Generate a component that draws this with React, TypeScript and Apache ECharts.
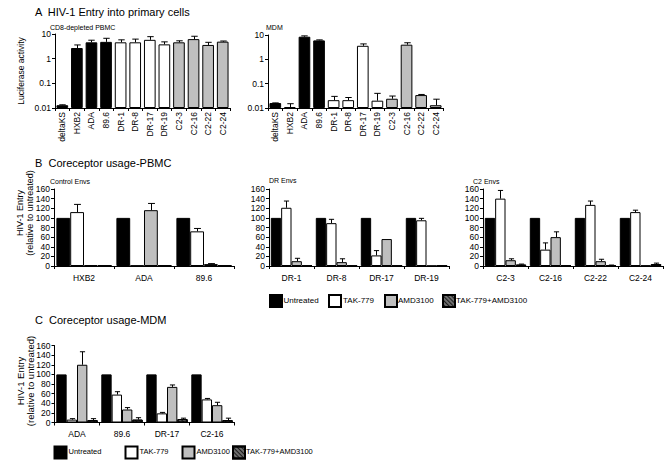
import React, { useEffect, useRef } from 'react';
import * as echarts from 'echarts';

// ---------- Panel A ----------
const strainsA = ['deltaKS', 'HXB2', 'ADA', '89.6', 'DR-1', 'DR-8', 'DR-17', 'DR-19', 'C2-3', 'C2-16', 'C2-22', 'C2-24'];
const groupA = ['ctrl', 'ctrl', 'ctrl', 'ctrl', 'dr', 'dr', 'dr', 'dr', 'c2', 'c2', 'c2', 'c2'];
const pbmcA = [0.013, 2.7, 4.6, 4.8, 4.6, 4.6, 5.8, 3.8, 4.6, 6.2, 3.6, 4.9];
const pbmcAErr = [0.0135, 3.6, 5.6, 6.7, 5.8, 6.2, 7.8, 4.8, 5.3, 8.1, 4.6, 5.2];
const mdmA = [0.016, 0.011, 8.5, 6.0, 0.021, 0.021, 3.6, 0.02, 0.024, 4.0, 0.034, 0.013];
const mdmAErr = [0.0162, 0.015, 9.2, 6.3, 0.03, 0.027, 4.3, 0.04, 0.031, 4.8, 0.036, 0.023];
const logTicks = ['0.01', '0.1', '1', '10'];

// ---------- Panel B ----------
const treatments = ['Untreated', 'TAK-779', 'AMD3100', 'TAK-779+AMD3100'];
const controlCats = ['HXB2', 'ADA', '89.6'];
const controlVals = [
  [100, 100, 100],
  [112, 1, 72],
  [2, 116, 4],
  [1, 1.5, 1],
];
const controlErrs = [
  [100, 100, 100],
  [128, 1, 78],
  [2, 130, 5],
  [1, 1.5, 1],
];
const drCats = ['DR-1', 'DR-8', 'DR-17', 'DR-19'];
const drVals = [
  [100, 100, 100, 100],
  [121, 89, 22, 95],
  [10, 8, 56, 0.5],
  [1, 0.5, 0.5, 0.5],
];
const drErrs = [
  [100, 100, 100, 100],
  [135, 97, 32, 99],
  [16, 15, 56, 0.5],
  [1, 0.5, 0.5, 0.5],
];
const c2Cats = ['C2-3', 'C2-16', 'C2-22', 'C2-24'];
const c2Vals = [
  [100, 100, 100, 100],
  [140, 34, 127, 112],
  [12, 60, 10, 1],
  [3, 1, 1.5, 4],
];
const c2Errs = [
  [100, 100, 100, 100],
  [157, 48, 135, 116],
  [15, 71, 14, 1],
  [4, 1, 2, 6],
];

// ---------- Panel C ----------
const mdmCats = ['ADA', '89.6', 'DR-17', 'C2-16'];
const mdmVals = [
  [100, 100, 100, 100],
  [6, 58, 19, 48],
  [120, 27, 74, 36],
  [5, 6, 7, 5],
];
const mdmErrs = [
  [100, 100, 100, 100],
  [8, 64, 21, 50],
  [147, 31, 78, 42],
  [8, 10, 9, 9],
];
const linTicks = [0, 20, 40, 60, 80, 100, 120, 140, 160];

const FONT = 'Liberation Sans, Arial, sans-serif';
const GRAY = '#bfbfbf';
const HATCH_DECAL = {
  symbol: 'rect',
  symbolSize: 1,
  color: 'rgba(0,0,0,0.75)',
  dashArrayX: [1, 0],
  dashArrayY: [1, 1.5],
  rotation: Math.PI / 4,
};
const treatStyles = [
  { color: '#000000', borderColor: '#000', borderWidth: 1 },
  { color: '#ffffff', borderColor: '#000', borderWidth: 1 },
  { color: GRAY, borderColor: '#000', borderWidth: 1 },
  { color: '#6e6e6e', borderColor: '#000', borderWidth: 1, decal: HATCH_DECAL },
];
const colorA: Record<string, string> = { ctrl: '#000000', dr: '#ffffff', c2: GRAY };

function errSeries(gi: number, barIdx: number, nBars: number, bwFrac: number, capFrac: number, vals: number[], errs: number[]) {
  return {
    type: 'custom',
    xAxisIndex: gi,
    yAxisIndex: gi,
    z: 5,
    silent: true,
    clip: false,
    data: vals.map((v, i) => [i, v, errs[i]]),
    renderItem: (params: any, api: any) => {
      const i = api.value(0);
      const v = api.value(1);
      const e = api.value(2);
      if (!(e > v)) return null;
      const p0 = api.coord([i, v]);
      const p1 = api.coord([i, e]);
      const band = api.size([1, v])[0];
      const bw = band * bwFrac;
      const cx = Math.round(p0[0] - (nBars * bw) / 2 + (barIdx + 0.5) * bw) + 0.5;
      const hw = (bw * capFrac) / 2;
      const st = { stroke: '#000', lineWidth: 1 };
      return {
        type: 'group',
        children: [
          { type: 'line', shape: { x1: cx, y1: p0[1], x2: cx, y2: p1[1] }, style: st },
          { type: 'line', shape: { x1: cx - hw, y1: p1[1], x2: cx + hw, y2: p1[1] }, style: st },
        ],
      };
    },
  };
}

const axisLineStyle = { show: true, lineStyle: { color: '#000', width: 1 } };

function catAxis(gi: number, cats: string[], fontSize: number, rotate: number, margin: number) {
  return {
    type: 'category',
    gridIndex: gi,
    data: cats,
    axisLine: axisLineStyle,
    axisTick: { show: true, length: 3, lineStyle: { color: '#000' } },
    axisLabel: { interval: 0, rotate, fontSize, color: '#000', margin, fontFamily: FONT },
    splitLine: { show: false },
  };
}

function logAxis(gi: number) {
  return {
    type: 'log',
    gridIndex: gi,
    position: 'left',
    logBase: 10,
    min: 0.01,
    max: 10,
    startValue: 0.01,
    axisLine: axisLineStyle,
    axisTick: { show: true, length: 3, lineStyle: { color: '#000' } },
    axisLabel: {
      fontSize: 8.5,
      color: '#000',
      margin: 4,
      fontFamily: FONT,
      formatter: (v: number) => {
        const idx = Math.round(Math.log10(v)) + 2;
        return logTicks[idx] ?? String(v);
      },
    },
    splitLine: { show: false },
  };
}

function linAxis(gi: number) {
  return {
    type: 'value',
    gridIndex: gi,
    position: 'left',
    min: linTicks[0],
    max: linTicks[linTicks.length - 1],
    interval: linTicks[1] - linTicks[0],
    axisLine: axisLineStyle,
    axisTick: { show: true, length: 3, lineStyle: { color: '#000' } },
    axisLabel: { fontSize: 8.5, color: '#000', margin: 4, fontFamily: FONT },
    splitLine: { show: false },
  };
}

function groupedSeries(gi: number, vals: number[][], errs: number[][]) {
  const out: any[] = [];
  vals.forEach((arr, k) => {
    out.push({
      type: 'bar',
      name: treatments[k],
      xAxisIndex: gi,
      yAxisIndex: gi,
      barWidth: '23%',
      barGap: '0%',
      itemStyle: treatStyles[k],
      data: arr,
    });
  });
  vals.forEach((arr, k) => {
    out.push(errSeries(gi, k, 4, 0.23, 0.5, arr, errs[k]));
  });
  return out;
}

function legendItems(lefts: number[], top: number) {
  return treatments.map((t, k) => ({
    data: [t],
    left: lefts[k],
    top,
    padding: 0,
    itemWidth: 12,
    itemHeight: 12,
    icon: 'rect',
    selectedMode: false,
    formatter: () => '',
    textStyle: { fontSize: 8, color: '#000', fontFamily: FONT },
  }));
}

function txt(x: number, y: number, text: string, fontSize: number) {
  return {
    type: 'text',
    x,
    y,
    silent: true,
    style: {
      text,
      fontSize,
      fontFamily: FONT,
      fill: '#000',
      textAlign: 'left',
      textVerticalAlign: 'middle',
    },
  };
}

function vtxt(x: number, y: number, text: string, fontSize: number) {
  return {
    type: 'text',
    x,
    y,
    silent: true,
    rotation: Math.PI / 2,
    style: {
      text,
      fontSize,
      fontFamily: FONT,
      fill: '#000',
      textAlign: 'center',
      textVerticalAlign: 'middle',
    },
  };
}

const TITLE_A = 'A  HIV-1 Entry into primary cells';
const TITLE_B = 'B  Coreceptor usage-PBMC';
const TITLE_C = 'C  Coreceptor usage-MDM';
const Y_NAME_A = 'Luciferase activity';
const Y_NAME_1 = 'HIV-1 Entry';
const Y_NAME_2 = '(relative to untreated)';

const legendBoxB = [269, 328, 384, 442];
const legendTextB = [283.5, 343, 398, 456];
const legendBoxC = [53.5, 124.5, 181.5, 232];
const legendTextC = [68.5, 139.5, 196.5, 246];

const boxStyle: React.CSSProperties = { position: 'fixed', left: 0, top: 0, width: 664, height: 465 };

export default function App() {
  const ref = useRef<HTMLDivElement>(null);
  const blRef = useRef<HTMLDivElement>(null);
  const textRef = useRef<HTMLDivElement>(null);
  useEffect(() => {
    if (!ref.current || !blRef.current || !textRef.current) return;
    const chart = echarts.init(ref.current, undefined, { renderer: 'svg' });
    const chartBL = echarts.init(blRef.current, undefined, { renderer: 'svg' });
    const textChart = echarts.init(textRef.current, undefined, { renderer: 'svg' });

    // main instance: B middle, B right, C, A left, A right
    const grids = [
      { left: 269, top: 189, width: 180, height: 77 },
      { left: 483, top: 189, width: 180, height: 77 },
      { left: 54.5, top: 345.5, width: 180, height: 77 },
      { left: 55, top: 34, width: 175, height: 74 },
      { left: 268, top: 35, width: 175, height: 73 },
    ];
    const series: any[] = [];
    series.push(...groupedSeries(0, drVals, drErrs));
    series.push(...groupedSeries(1, c2Vals, c2Errs));
    series.push(...groupedSeries(2, mdmVals, mdmErrs));
    [pbmcA, mdmA].forEach((vals, k) => {
      const gi = 3 + k;
      series.push({
        type: 'bar',
        name: k === 0 ? 'PBMC' : 'MDM',
        xAxisIndex: gi,
        yAxisIndex: gi,
        barWidth: '80%',
        data: vals.map((v, i) => ({
          value: v,
          itemStyle: { color: colorA[groupA[i]], borderColor: '#000', borderWidth: 1 },
        })),
      });
      series.push(errSeries(gi, 0, 1, 0.8, 0.55, vals, k === 0 ? pbmcAErr : mdmAErr));
    });

    chart.setOption({
      animation: false,
      backgroundColor: '#fff',
      textStyle: { fontFamily: FONT },
      grid: grids.map((g) => ({ ...g, containLabel: false })),
      xAxis: [
        catAxis(0, drCats, 8.5, 0, 7),
        catAxis(1, c2Cats, 8.5, 0, 7),
        catAxis(2, mdmCats, 8.5, 0, 7),
        catAxis(3, strainsA, 8.5, 90, 4),
        catAxis(4, strainsA, 8.5, 90, 4),
      ],
      yAxis: [linAxis(0), linAxis(1), linAxis(2), logAxis(3), logAxis(4)],
      legend: [...legendItems(legendBoxB, 294), ...legendItems(legendBoxC, 445.5)],
      series,
    });

    // separate instance: B left (control Envs)
    chartBL.setOption({
      animation: false,
      backgroundColor: 'transparent',
      textStyle: { fontFamily: FONT },
      grid: [{ left: 54, top: 189, width: 180, height: 77, containLabel: false }],
      xAxis: [catAxis(0, controlCats, 8.5, 0, 7)],
      yAxis: [linAxis(0)],
      series: groupedSeries(0, controlVals, controlErrs),
    });

    const texts: any[] = [
      txt(35, 12, TITLE_A, 11),
      txt(50, 27, 'CD8-depleted PBMC', 7),
      txt(266, 27, 'MDM', 7),
      vtxt(21, 71, Y_NAME_A, 8.5),
      txt(35, 163, TITLE_B, 11),
      txt(50, 181, 'Control Envs', 7),
      txt(269, 180, 'DR Envs', 7),
      txt(473, 181, 'C2 Envs', 7),
      vtxt(20, 213, Y_NAME_1, 9),
      vtxt(30, 213, Y_NAME_2, 9),
      txt(35, 320, TITLE_C, 11),
      vtxt(20, 381, Y_NAME_1, 9.5),
      vtxt(30.5, 381, Y_NAME_2, 9.5),
    ];
    treatments.forEach((t, k) => {
      texts.push(txt(legendTextB[k], 300.5, t, 8));
      texts.push(txt(legendTextC[k], 451.5, t, 7.5));
    });
    textChart.setOption({
      animation: false,
      backgroundColor: 'transparent',
      graphic: { elements: texts },
    });
    return () => {
      chart.dispose();
      chartBL.dispose();
      textChart.dispose();
    };
  }, []);
  return (
    <div>
      <div ref={ref} style={boxStyle} />
      <div ref={blRef} style={{ ...boxStyle, pointerEvents: 'none' }} />
      <div ref={textRef} style={{ ...boxStyle, pointerEvents: 'none' }} />
    </div>
  );
}
